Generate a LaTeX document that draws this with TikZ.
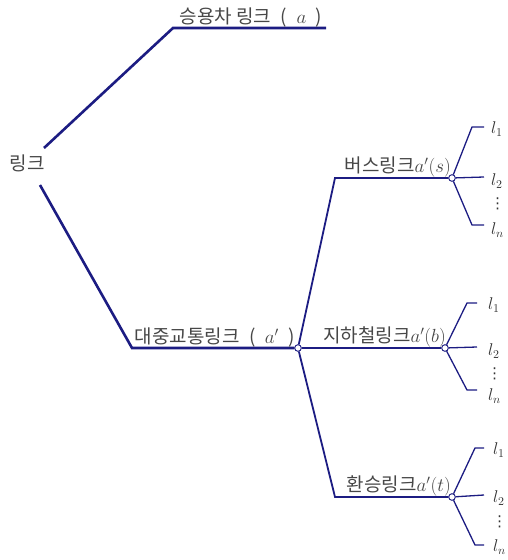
\documentclass[tikz,border=0pt]{standalone}
\usepackage{fix-cm}
\usepackage{fontspec}
\newfontfamily\kr{Noto Sans CJK KR}
\newfontfamily\dv{DejaVu Sans}
\definecolor{navy}{RGB}{28,28,130}
\begin{document}
\begin{tikzpicture}[x=1pt,y=-1pt,
  mainline/.style={draw=navy, line width=2.6pt, line join=miter},
  branchline/.style={draw=navy, line width=1.8pt},
  leafline/.style={draw=navy, line width=1.3pt},
  dotnode/.style={circle, draw=navy, fill=white, inner sep=0pt, minimum size=6.5pt, line width=0.8pt},
  lbl/.style={font=\kr\fontsize{19}{19}\selectfont, text=black!72, inner sep=1pt},
  leaflbl/.style={font=\fontsize{17}{17}\selectfont, text=black!80, inner sep=0pt, anchor=west},
  dotslbl/.style={font=\dv\fontsize{15}{15}\selectfont, text=black!80, inner sep=0pt, anchor=west}]
\useasboundingbox (0,0) rectangle (508,560);

% root
\node[lbl] (root) at (27,163) {링크};
\coordinate (r1) at (44,148);
\coordinate (r2) at (40,185);

% passenger car link
\coordinate (ta) at (173,28);
\coordinate (tb) at (326,28);
\draw[mainline] (r1) -- (ta) -- (tb);
\node[lbl, anchor=south] (carlbl) at (251,28) {승용차 링크\enspace(\enspace$a$\enspace)};

% public transit link
\coordinate (pa) at (132,348);
\node[dotnode] (hub) at (298,348) {};
\draw[mainline] (r2) -- (pa) -- (hub);
\node[lbl, anchor=south east] (ptlbl) at (296,348) {대중교통링크\enspace(\enspace$a'$\enspace)};

% bus
\coordinate (ba) at (335,178);
\node[dotnode] (bus) at (452,178) {};
\draw[branchline] (hub) -- (ba) -- (bus);
\node[lbl, anchor=south east] (buslbl) at (452,178) {버스링크$a'(s)$};

% subway
\node[dotnode] (sub) at (445,348) {};
\draw[branchline] (hub) -- (sub);
\node[lbl, anchor=south east] (sublbl) at (447,348) {지하철링크$a'(b)$};

% transfer
\coordinate (tra) at (335,497);
\node[dotnode] (tr) at (452,497) {};
\draw[branchline] (hub) -- (tra) -- (tr);
\node[lbl, anchor=south east] (trlbl) at (452,497) {환승링크$a'(t)$};

% leaves bus
\coordinate (b1a) at (472,127); \coordinate (b1b) at (484,127);
\coordinate (b2b) at (484,177);
\coordinate (bna) at (472,225); \coordinate (bnb) at (484,225);
\draw[leafline] (bus) -- (b1a) -- (b1b);
\draw[leafline] (bus) -- (b2b);
\draw[leafline] (bus) -- (bna) -- (bnb);
\node[leaflbl] (bl1) at (491,129) {$l_1$};
\node[leaflbl] (bl2) at (491,181) {$l_2$};
\node[dotslbl] (bld) at (490,204) {⋮};
\node[leaflbl] (bln) at (491,230) {$l_n$};

% leaves subway
\coordinate (s1a) at (467,303); \coordinate (s1b) at (477,303);
\coordinate (s2b) at (477,347);
\coordinate (sna) at (467,390); \coordinate (snb) at (477,390);
\draw[leafline] (sub) -- (s1a) -- (s1b);
\draw[leafline] (sub) -- (s2b);
\draw[leafline] (sub) -- (sna) -- (snb);
\node[leaflbl] (sl1) at (488,305) {$l_1$};
\node[leaflbl] (sl2) at (488,351) {$l_2$};
\node[dotslbl] (sld) at (487,374) {⋮};
\node[leaflbl] (sln) at (488,396) {$l_n$};

% leaves transfer
\coordinate (t1a) at (475,448); \coordinate (t1b) at (484,448);
\coordinate (t2b) at (484,495);
\coordinate (tna) at (475,545); \coordinate (tnb) at (484,545);
\draw[leafline] (tr) -- (t1a) -- (t1b);
\draw[leafline] (tr) -- (t2b);
\draw[leafline] (tr) -- (tna) -- (tnb);
\node[leaflbl] (tl1) at (493,450) {$l_1$};
\node[leaflbl] (tl2) at (493,498) {$l_2$};
\node[dotslbl] (tld) at (492,522) {⋮};
\node[leaflbl] (tln) at (493,547) {$l_n$};

% redraw dots on top
\node[dotnode] at (hub) {};
\node[dotnode] at (bus) {};
\node[dotnode] at (sub) {};
\node[dotnode] at (tr) {};
\end{tikzpicture}
\end{document}
